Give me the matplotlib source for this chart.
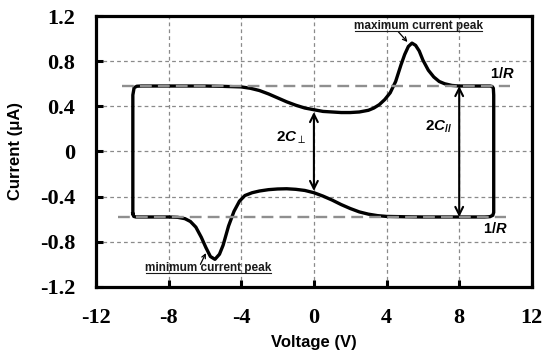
import matplotlib
matplotlib.use("Agg")
import matplotlib.pyplot as plt
from matplotlib.lines import Line2D

# ---- data ----
upper_v = [-9.97, -9.97, -9.9, -9.75, -9.5, -8.0, -6.0, -5.0, -4.0, -3.5, -3.0, -2.5, -2.0,
           -1.5, -1.0, -0.5, 0.0, 0.5, 1.0, 1.5, 2.0, 2.5, 3.0, 3.3, 3.6, 3.9, 4.2, 4.5,
           4.8, 5.0, 5.2, 5.4, 5.6, 5.8, 6.0, 6.3, 6.6, 6.9, 7.2, 7.6, 8.0, 9.0, 9.7,
           9.82, 9.88, 9.9]
upper_i = [-0.55, 0.50, 0.565, 0.578, 0.58, 0.58, 0.58, 0.577, 0.572, 0.56, 0.54, 0.51, 0.475,
           0.44, 0.41, 0.385, 0.37, 0.355, 0.35, 0.345, 0.345, 0.35, 0.365, 0.385, 0.415, 0.46,
           0.52, 0.62, 0.77, 0.86, 0.93, 0.96, 0.94, 0.89, 0.81, 0.72, 0.66, 0.62, 0.60, 0.585,
           0.58, 0.58, 0.58, 0.575, 0.56, 0.50]
lower_v = [9.9, 9.9, 9.85, 9.7, 9.4, 8.0, 6.0, 5.0, 4.0, 3.5, 3.0, 2.5, 2.0, 1.5, 1.0, 0.5,
           0.0, -0.5, -1.0, -1.5, -2.0, -2.5, -3.0, -3.4, -3.8, -4.1, -4.4, -4.7, -5.0, -5.2,
           -5.45, -5.7, -5.95, -6.2, -6.5, -6.8, -7.1, -7.5, -8.0, -9.5, -9.8, -9.92, -9.97]
lower_i = [0.50, -0.54, -0.565, -0.577, -0.58, -0.58, -0.58, -0.578, -0.575, -0.568, -0.555,
           -0.535, -0.505, -0.47, -0.43, -0.395, -0.365, -0.345, -0.335, -0.33, -0.332, -0.338,
           -0.35, -0.365, -0.39, -0.44, -0.53, -0.66, -0.83, -0.91, -0.955, -0.93, -0.85,
           -0.76, -0.67, -0.62, -0.595, -0.583, -0.58, -0.58, -0.58, -0.575, -0.55]

r_level = 0.58
r_upper_span = [-10.55, 10.8]
r_lower_span = [-10.8, 10.55]
c_perp = [0.35, -0.35]      # arrow at V = 0
c_par = [0.58, -0.58]       # arrow at V = 8

xticks = [-12, -8, -4, 0, 4, 8, 12]
xtick_labels = ["-12", "-8", "-4", "0", "4", "8", "12"]
yticks = [-1.2, -0.8, -0.4, 0, 0.4, 0.8, 1.2]
ytick_labels = ["-1.2", "-0.8", "-0.4", "0", "0.4", "0.8", "1.2"]

# ---- styling ----
plt.rcParams["mathtext.fontset"] = "custom"
plt.rcParams["mathtext.rm"] = "Liberation Sans:bold"
plt.rcParams["mathtext.it"] = "Liberation Sans:italic:bold"
plt.rcParams["mathtext.bf"] = "Liberation Sans:bold"

fig = plt.figure(figsize=(5.5, 3.59), dpi=100)
ax = fig.add_axes([0.1745, 0.2006, 0.7925, 0.7548])

ax.set_xlim(-12, 12)
ax.set_ylim(-1.2, 1.2)

# grid
for xv in xticks[1:-1]:
    ax.axvline(xv, color="#8a8a8a", lw=0.9, ls=(0, (3, 2.5)), zorder=1)
for yv in yticks[1:-1]:
    ax.axhline(yv, color="#8a8a8a", lw=0.9, ls=(0, (3, 2.5)), zorder=1)

# CV loop
ax.plot(upper_v + lower_v + [upper_v[0]], upper_i + lower_i + [upper_i[0]],
        color="black", lw=2.4, solid_joinstyle="round", zorder=3)

# 1/R lines
ax.plot(r_upper_span, [r_level, r_level], color="#8f8f8f", lw=1.7,
        dashes=(5, 2.6), zorder=4)
ax.plot(r_lower_span, [-r_level, -r_level], color="#8f8f8f", lw=1.7,
        dashes=(5, 2.6), zorder=4)

# double arrows
arrow_kw = dict(arrowstyle="<->", color="black", lw=1.5, mutation_scale=14,
                shrinkA=0, shrinkB=0)
ax.annotate("", xy=(0, c_perp[0]), xytext=(0, c_perp[1]), arrowprops=arrow_kw, zorder=5)
ax.annotate("", xy=(8, c_par[0]), xytext=(8, c_par[1]), arrowprops=arrow_kw, zorder=5)

ax.text(-1.25, 0.12, r"$\mathrm{2}C_{\perp}$", fontsize=11, ha="center", va="center")
ax.text(6.85, 0.22, r"$\mathrm{2}C_{//}$", fontsize=11, ha="center", va="center")
ax.text(10.4, 0.69, r"$\mathrm{1/}R$", fontsize=10.5, ha="center", va="center")
ax.text(10.0, -0.68, r"$\mathrm{1/}R$", fontsize=10.5, ha="center", va="center")

# peak annotations
t1 = ax.text(5.75, 1.115, "maximum current peak", fontsize=8.5, fontweight="bold",
             family="Liberation Sans", color="#1a1a1a", ha="center", va="center")
t2 = ax.text(-5.8, -1.03, "minimum current peak", fontsize=8.5, fontweight="bold",
             family="Liberation Sans", color="#1a1a1a", ha="center", va="center")
ax.annotate("", xy=(5.15, 0.97), xytext=(4.65, 1.06),
            arrowprops=dict(arrowstyle="->", color="black", lw=0.9, mutation_scale=7,
                            shrinkA=0, shrinkB=0))
ax.annotate("", xy=(-5.95, -0.9), xytext=(-6.25, -1.0),
            arrowprops=dict(arrowstyle="->", color="black", lw=0.9, mutation_scale=7,
                            shrinkA=0, shrinkB=0))

# ticks and spines
ax.set_xticks(xticks)
ax.set_xticklabels(xtick_labels)
ax.set_yticks(yticks)
ax.set_yticklabels(ytick_labels)
ax.tick_params(axis="both", direction="in", length=5, width=2.2, pad=15,
               top=False, right=False)
for lab in ax.get_xticklabels() + ax.get_yticklabels():
    lab.set_fontfamily("Liberation Serif")
    lab.set_fontweight("bold")
    lab.set_fontsize(16)
for sp in ax.spines.values():
    sp.set_linewidth(2.3)
    sp.set_zorder(6)

ax.set_xlabel("Voltage (V)", family="Liberation Sans", fontweight="bold",
              fontsize=12, labelpad=5)
ax.set_ylabel("Current (\u03bcA)", family="Liberation Sans", fontweight="bold",
              fontsize=12, labelpad=12)

# underline annotations
fig.canvas.draw()
renderer = fig.canvas.get_renderer()
for t in (t1, t2):
    bb = t.get_window_extent(renderer)
    y = bb.y0 + 0.5
    fig.add_artist(Line2D([bb.x0 + 1, bb.x1 - 1], [y, y], transform=None,
                          color="#1a1a1a", lw=0.8))

fig.savefig("out.png", dpi=100)
